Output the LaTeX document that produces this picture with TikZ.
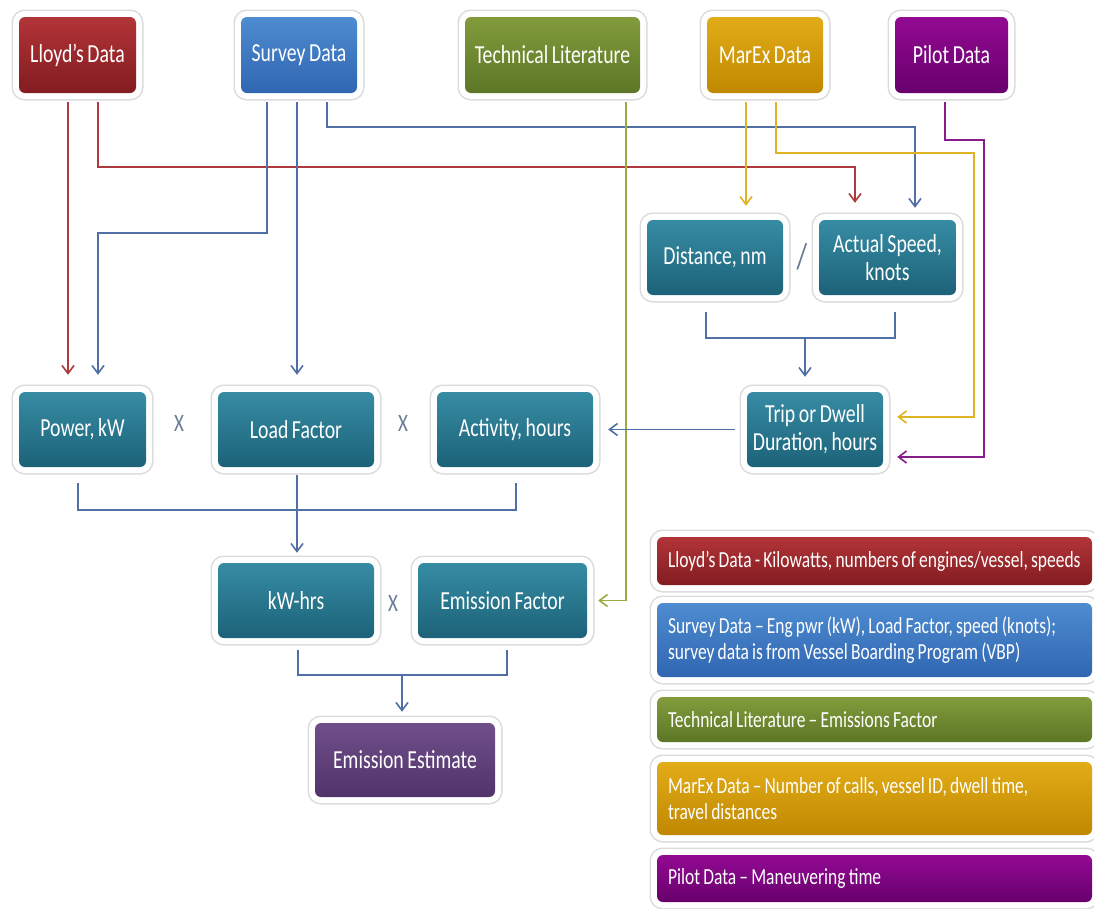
\documentclass[tikz,border=0pt]{standalone}
\usepackage{fontspec}
\setmainfont{Carlito}[FakeStretch=0.76, WordSpace=0.8]
\usetikzlibrary{arrows.meta}
\definecolor{tealA}{RGB}{54,140,164}
\definecolor{tealB}{RGB}{28,98,120}
\definecolor{redA}{RGB}{178,52,56}
\definecolor{redB}{RGB}{130,28,32}
\definecolor{bluA}{RGB}{78,140,208}
\definecolor{bluB}{RGB}{48,102,178}
\definecolor{grnA}{RGB}{130,156,60}
\definecolor{grnB}{RGB}{92,118,38}
\definecolor{yelA}{RGB}{226,172,24}
\definecolor{yelB}{RGB}{192,136,0}
\definecolor{purA}{RGB}{146,10,146}
\definecolor{purB}{RGB}{104,0,108}
\definecolor{estA}{RGB}{112,78,138}
\definecolor{estB}{RGB}{80,52,106}
\definecolor{lnRed}{RGB}{172,58,62}
\definecolor{lnBlue}{RGB}{80,112,165}
\definecolor{lnGrn}{RGB}{150,172,62}
\definecolor{lnYel}{RGB}{222,180,36}
\definecolor{lnPur}{RGB}{135,28,140}
\definecolor{opgray}{RGB}{105,122,150}
\begin{document}
\begin{tikzpicture}[x=1pt,y=-1pt,
  base/.style={rounded corners=6pt, text=white, align=center, inner sep=0pt,
    preaction={draw=black!14, line width=15pt},
    preaction={draw=white, line width=12pt},
    font=\fontsize{26}{28}\selectfont},
  tealbox/.style={base, top color=tealA, bottom color=tealB},
  lloydbox/.style={base, top color=redA, bottom color=redB},
  surveybox/.style={base, top color=bluA, bottom color=bluB},
  techbox/.style={base, top color=grnA, bottom color=grnB},
  marexbox/.style={base, top color=yelA, bottom color=yelB},
  pilotbox/.style={base, top color=purA, bottom color=purB},
  estbox/.style={base, top color=estA, bottom color=estB},
  legend/.style={align=flush left, inner xsep=11pt, text width=413pt,
    font=\fontsize{23}{26}\selectfont},
  ln/.style={line width=1.6pt},
  arr/.style={ln, -{Straight Barb[length=8pt,width=12pt]}},
  op/.style={text=opgray, font=\fontsize{25}{26}\selectfont, inner sep=0pt}
]
\useasboundingbox (0,0) rectangle (1094,908);
\fill[white] (0,0) rectangle (1094,908);

% source boxes
\node[lloydbox, minimum width=117pt, minimum height=76pt] (lloyd) at (77.5,55) {Lloyd’s Data};
\node[surveybox, minimum width=116pt, minimum height=76pt] (survey) at (299,55) {Survey Data};
\node[techbox, minimum width=175pt, minimum height=76pt] (tech) at (552.5,55) {Technical Literature};
\node[marexbox, minimum width=116pt, minimum height=76pt] (marex) at (765,55) {MarEx Data};
\node[pilotbox, minimum width=113pt, minimum height=76pt] (pilot) at (951.5,55) {Pilot Data};

% calculation boxes
\node[tealbox, minimum width=136pt, minimum height=75pt] (dist) at (715,257.5) {Distance, nm};
\node[tealbox, minimum width=137pt, minimum height=75pt] (speed) at (887.5,257.5) {Actual Speed,\\knots};
\node[tealbox, minimum width=127pt, minimum height=75pt] (power) at (82.5,429.5) {Power, kW};
\node[tealbox, minimum width=156pt, minimum height=75pt] (load) at (296,429.5) {Load Factor};
\node[tealbox, minimum width=156pt, minimum height=75pt] (activity) at (515,429.5) {Activity, hours};
\node[tealbox, minimum width=136pt, minimum height=75pt] (trip) at (815,429.5) {Trip or Dwell\\Duration, hours};
\node[tealbox, minimum width=156pt, minimum height=75pt] (kwh) at (296,600.5) {kW-hrs};
\node[tealbox, minimum width=169pt, minimum height=75pt] (ef) at (502.5,600.5) {Emission Factor};
\node[estbox, minimum width=180pt, minimum height=74pt] (est) at (405,760) {Emission Estimate};

% operators
\node[op] (x1) at (179,423) {X};
\node[op] (x2) at (403,423) {X};
\node[op] (x3) at (393,603) {X};
\node[op, font=\fontsize{36}{38}\selectfont] (slash) at (802,257) {/};

% legend
\node[lloydbox, legend, minimum height=48pt] (lg1) at (874.5,561) {\mbox{Lloyd’s Data - Kilowatts, numbers of engines/vessel, speeds}};
\node[surveybox, legend, minimum height=74pt] (lg2) at (874.5,640) {\mbox{Survey Data – Eng pwr (kW), Load Factor, speed (knots);}\\survey data is from Vessel Boarding Program (VBP)};
\node[techbox, legend, minimum height=45pt] (lg3) at (874.5,719.5) {Technical Literature – Emissions Factor};
\node[marexbox, legend, minimum height=73pt] (lg4) at (874.5,798.5) {MarEx Data – Number of calls, vessel ID, dwell time,\\travel distances};
\node[pilotbox, legend, minimum height=47pt] (lg5) at (874.5,878.5) {Pilot Data – Maneuvering time};

% routing coordinates
\coordinate (xa) at (68,0);
\coordinate (xb) at (98,0);
\coordinate (xc) at (267,0);
\coordinate (xd) at (297,0);
\coordinate (xe) at (327,0);
\coordinate (xf) at (626,0);
\coordinate (xg) at (746,0);
\coordinate (xh) at (776,0);
\coordinate (xi) at (855,0);
\coordinate (xj) at (915,0);
\coordinate (xk) at (945,0);
\coordinate (xl) at (974,0);
\coordinate (xm) at (984,0);
\coordinate (yS) at (0,127);
\coordinate (yP) at (0,140);
\coordinate (yY) at (0,153);
\coordinate (yR) at (0,167);
\coordinate (yC) at (0,233);

% source connectors
\draw[arr, lnRed, shorten <=9pt, shorten >=17pt] (lloyd.south -| xa) -- (power.north -| xa);
\draw[arr, lnRed, shorten <=9pt, shorten >=17pt] (lloyd.south -| xb) |- (xi |- yR) -- (speed.north -| xi);
\draw[arr, lnBlue, shorten <=9pt, shorten >=17pt] (survey.south -| xc) |- (xb |- yC) -- (power.north -| xb);
\draw[arr, lnBlue, shorten <=9pt, shorten >=17pt] (survey.south -| xd) -- (load.north -| xd);
\draw[arr, lnBlue, shorten <=9pt, shorten >=12pt] (survey.south -| xe) |- (xj |- yS) -- (speed.north -| xj);
\draw[arr, lnGrn, shorten <=9pt, shorten >=11pt] (tech.south -| xf) |- (ef.east);
\draw[arr, lnYel, shorten <=9pt, shorten >=14pt] (marex.south -| xg) -- (dist.north -| xg);
\draw[arr, lnYel, shorten <=9pt, shorten >=14pt] (marex.south -| xh) |- (xl |- yY) |- ([yshift=12.5pt]trip.east);
\draw[arr, lnPur, shorten <=9pt, shorten >=14pt] (pilot.south -| xk) |- (xm |- yP) |- ([yshift=-27.5pt]trip.east);

% distance / speed -> trip
\coordinate (bB1) at (706,312);
\coordinate (bB2) at (895,338);
\coordinate (bBm) at (805,338);
\draw[ln, lnBlue] (bB1) |- (bB2) -- (bB2 |- bB1);
\draw[arr, lnBlue, shorten >=15pt] (bBm) -- (trip.north -| bBm);
\draw[arr, lnBlue, shorten <=12pt, shorten >=15pt] (trip.west) -- (activity.east);

% power x load x activity -> kW-hrs
\coordinate (bA1) at (78,483);
\coordinate (bA2) at (516,510);
\draw[ln, lnBlue] (bA1) |- (bA2) -- (bA2 |- bA1);
\draw[arr, lnBlue, shorten <=8pt, shorten >=10pt] (load.south -| xd) -- (kwh.north -| xd);

% kW-hrs x EF -> estimate
\coordinate (bC1) at (298,650);
\coordinate (bC2) at (507,675);
\coordinate (bCm) at (402,675);
\draw[ln, lnBlue] (bC1) |- (bC2) -- (bC2 |- bC1);
\draw[arr, lnBlue, shorten >=11pt] (bCm) -- (est.north -| bCm);
\end{tikzpicture}
\end{document}
